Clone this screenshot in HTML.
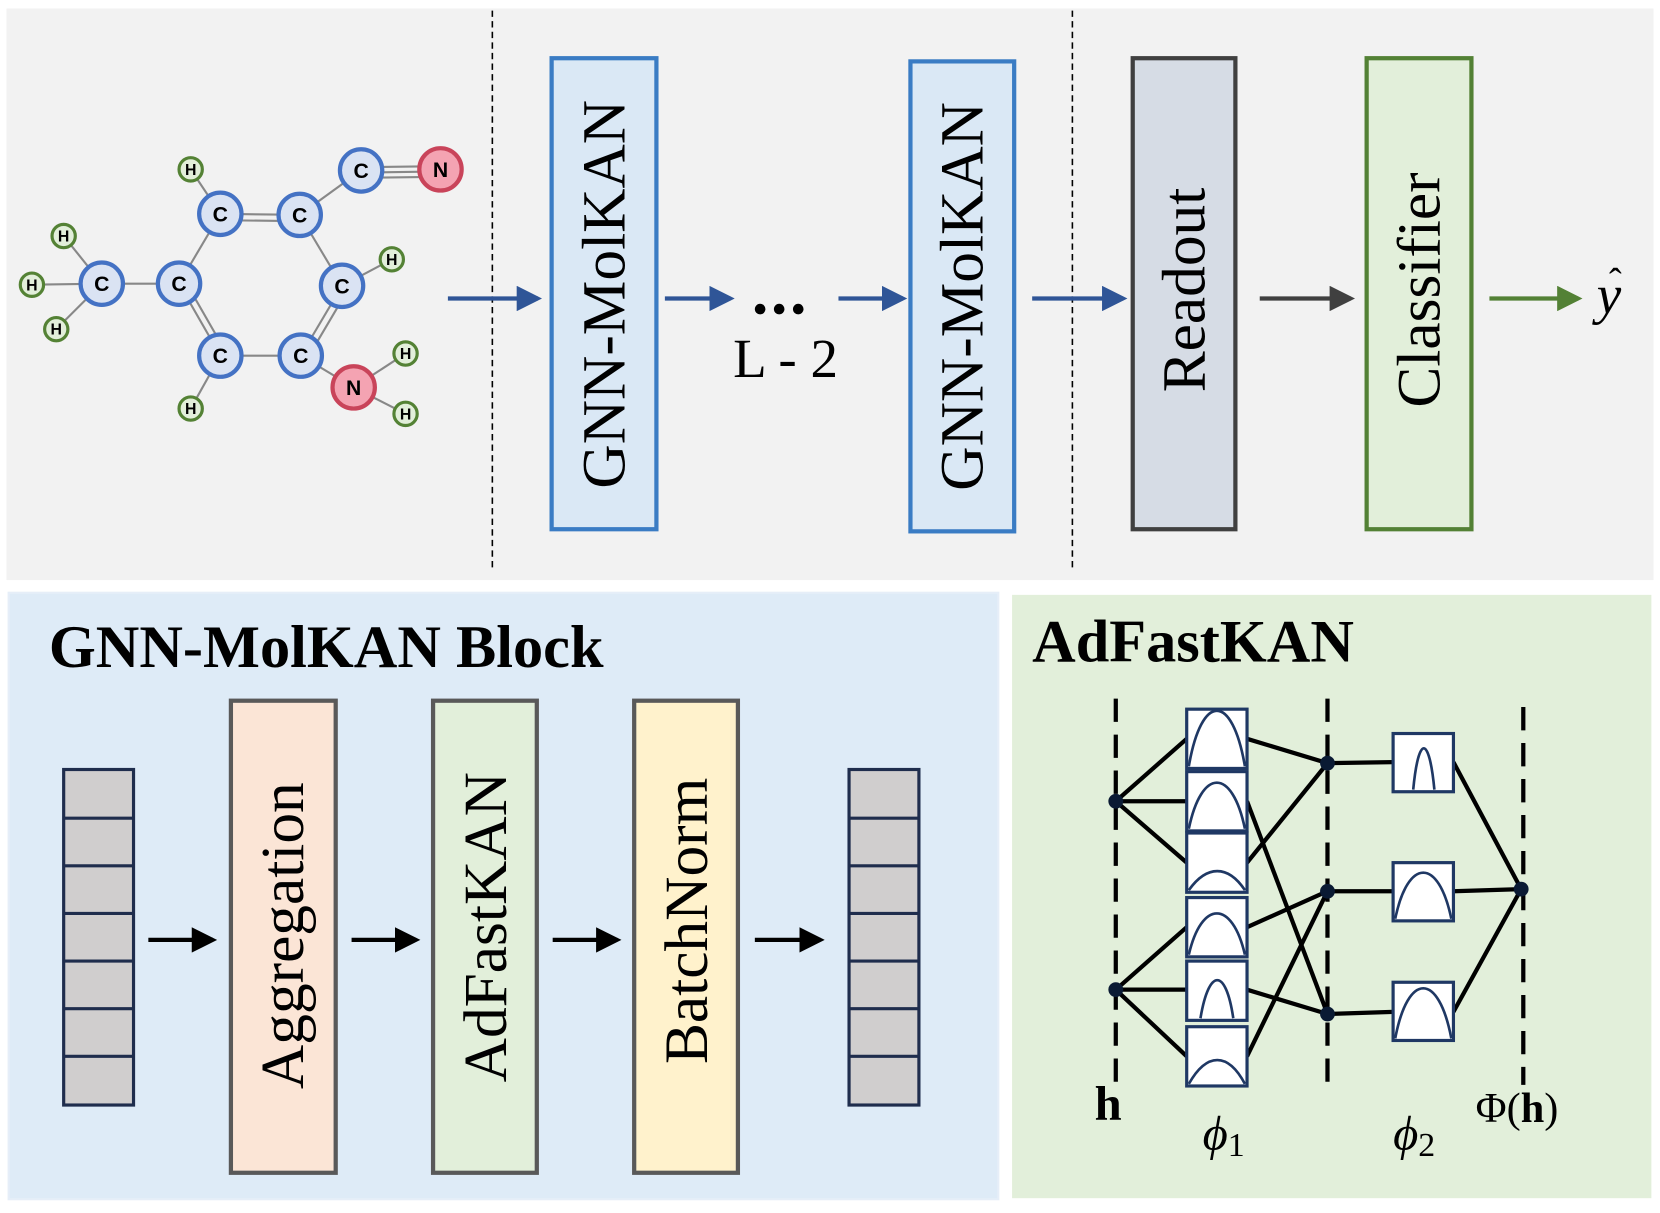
<!DOCTYPE html>
<html><head><meta charset="utf-8"><style>
html,body{margin:0;padding:0;background:#fff}
svg{display:block}
.t{font-family:"Liberation Serif",serif}
.a{font-family:"Liberation Sans",sans-serif;font-weight:bold;text-anchor:middle;dominant-baseline:central}
</style></head><body>
<svg width="1660" height="1213" viewBox="0 0 1568 1146" xmlns="http://www.w3.org/2000/svg">
<defs>
<marker id="mb" markerWidth="6" markerHeight="6" refX="5" refY="3" orient="auto" markerUnits="strokeWidth"><path d="M0,0 L6,3 L0,6 z" fill="#2f5597"/></marker>
<marker id="mk" markerWidth="6" markerHeight="6" refX="5" refY="3" orient="auto" markerUnits="strokeWidth"><path d="M0,0 L6,3 L0,6 z" fill="#000"/></marker>
<marker id="mg" markerWidth="6" markerHeight="6" refX="5" refY="3" orient="auto" markerUnits="strokeWidth"><path d="M0,0 L6,3 L0,6 z" fill="#404040"/></marker>
<marker id="mgr" markerWidth="6" markerHeight="6" refX="5" refY="3" orient="auto" markerUnits="strokeWidth"><path d="M0,0 L6,3 L0,6 z" fill="#538135"/></marker>
</defs>
<rect x="0" y="0" width="1568" height="1146" fill="#fff"/>
<rect x="6" y="8" width="1556" height="540" fill="#f2f2f2"/>
<line x1="465" y1="10" x2="465" y2="540" stroke="#000" stroke-width="1.5" stroke-dasharray="6,4"/>
<line x1="1013" y1="10" x2="1013" y2="540" stroke="#000" stroke-width="1.5" stroke-dasharray="6,4"/>
<g stroke="#888" stroke-width="2">
<line x1="208" y1="202" x2="283" y2="203"/><line x1="208" y1="208" x2="283" y2="209"/>
<line x1="283" y1="203" x2="323" y2="270"/>
<line x1="283" y1="203" x2="341" y2="161"/>
<line x1="341" y1="158" x2="416" y2="157"/><line x1="341" y1="163" x2="416" y2="162"/><line x1="341" y1="168" x2="416" y2="167"/>
<line x1="208" y1="202" x2="169" y2="268"/>
<line x1="169" y1="268" x2="96" y2="268"/>
<line x1="169" y1="268" x2="208" y2="336"/><line x1="175" y1="266" x2="214" y2="334"/>
<line x1="208" y1="336" x2="284" y2="336"/>
<line x1="284" y1="336" x2="323" y2="270"/><line x1="290" y1="339" x2="329" y2="273"/>
<line x1="284" y1="336" x2="334" y2="366"/>
<line x1="208" y1="202" x2="180" y2="160"/>
<line x1="96" y1="268" x2="60" y2="223"/><line x1="96" y1="268" x2="30" y2="269"/><line x1="96" y1="268" x2="53" y2="311"/>
<line x1="323" y1="270" x2="370" y2="245"/>
<line x1="334" y1="366" x2="383" y2="334"/><line x1="334" y1="366" x2="383" y2="391"/>
<line x1="208" y1="336" x2="180" y2="386"/>
</g>
<g stroke="#4472c4" stroke-width="4" fill="#dae3f3">
<circle cx="208" cy="202" r="20"/><circle cx="283" cy="203" r="20"/><circle cx="96" cy="268" r="20"/><circle cx="169" cy="268" r="20"/><circle cx="323" cy="270" r="20"/><circle cx="208" cy="336" r="20"/><circle cx="284" cy="336" r="20"/><circle cx="341" cy="161" r="20"/>
</g>
<g stroke="#c9445a" stroke-width="4" fill="#f4a3b2"><circle cx="416" cy="160" r="20"/><circle cx="334" cy="366" r="20"/></g>
<g stroke="#548235" stroke-width="3" fill="#e2efda">
<circle cx="180" cy="160" r="11"/><circle cx="60" cy="223" r="11"/><circle cx="30" cy="269" r="11"/><circle cx="53" cy="311" r="11"/><circle cx="370" cy="245" r="11"/><circle cx="383" cy="334" r="11"/><circle cx="180" cy="386" r="11"/><circle cx="383" cy="391" r="11"/>
</g>
<g class="a" font-size="20">
<text x="208" y="203">C</text><text x="283" y="204">C</text><text x="96" y="269">C</text><text x="169" y="269">C</text><text x="323" y="271">C</text><text x="208" y="337">C</text><text x="284" y="337">C</text><text x="341" y="162">C</text>
<text x="416" y="161">N</text><text x="334" y="367">N</text>
</g>
<g class="a" font-size="15">
<text x="180" y="161">H</text><text x="60" y="224">H</text><text x="30" y="270">H</text><text x="53" y="312">H</text><text x="370" y="246">H</text><text x="383" y="335">H</text><text x="180" y="387">H</text><text x="383" y="392">H</text>
</g>
<g stroke="#2f5597" stroke-width="4" marker-end="url(#mb)">
<line x1="423" y1="282" x2="508" y2="282"/><line x1="628" y1="282" x2="690" y2="282"/><line x1="792" y1="282" x2="853" y2="282"/><line x1="975" y1="282" x2="1061" y2="282"/>
</g>
<line x1="1190" y1="282" x2="1276" y2="282" stroke="#404040" stroke-width="4" marker-end="url(#mg)"/>
<line x1="1407" y1="282" x2="1491" y2="282" stroke="#538135" stroke-width="4" marker-end="url(#mgr)"/>
<rect x="521" y="55" width="99" height="445" fill="#dae8f5" stroke="#3a7cc4" stroke-width="4"/>
<rect x="860" y="58" width="98" height="444" fill="#dae8f5" stroke="#3a7cc4" stroke-width="4"/>
<rect x="1070" y="55" width="97" height="445" fill="#d6dce5" stroke="#404040" stroke-width="4"/>
<rect x="1291" y="55" width="99" height="445" fill="#e2efda" stroke="#538135" stroke-width="4"/>
<g class="t" font-size="58" text-anchor="middle">
<text transform="translate(590,278) rotate(-90)">GNN-MolKAN</text>
<text transform="translate(928,280) rotate(-90)">GNN-MolKAN</text>
<text transform="translate(1138,274) rotate(-90)">Readout</text>
<text transform="translate(1360,274) rotate(-90)">Classifier</text>
<text x="742" y="356" font-size="52">L - 2</text>
<text x="1520" y="296" font-size="52" font-style="italic">y</text>
<text x="1526" y="278" font-size="36">ˆ</text>
</g>
<g fill="#000"><circle cx="718" cy="292" r="5"/><circle cx="736" cy="292" r="5"/><circle cx="754" cy="292" r="5"/></g>
<rect x="8" y="560" width="935" height="573" fill="#deebf7" stroke="#e6eef8" stroke-width="2"/>
<text class="t" x="46" y="630" font-size="57" font-weight="bold">GNN-MolKAN Block</text>
<g fill="#d0cece" stroke="#1f2d4d" stroke-width="3">
<rect x="60" y="727" width="66" height="317"/><rect x="802" y="727" width="66" height="317"/>
</g>
<g stroke="#1f2d4d" stroke-width="3">
<line x1="60" y1="773" x2="126" y2="773"/><line x1="60" y1="818" x2="126" y2="818"/><line x1="60" y1="863" x2="126" y2="863"/><line x1="60" y1="908" x2="126" y2="908"/><line x1="60" y1="953" x2="126" y2="953"/><line x1="60" y1="998" x2="126" y2="998"/>
<line x1="802" y1="773" x2="868" y2="773"/><line x1="802" y1="818" x2="868" y2="818"/><line x1="802" y1="863" x2="868" y2="863"/><line x1="802" y1="908" x2="868" y2="908"/><line x1="802" y1="953" x2="868" y2="953"/><line x1="802" y1="998" x2="868" y2="998"/>
</g>
<g stroke="#000" stroke-width="4" marker-end="url(#mk)">
<line x1="140" y1="888" x2="201" y2="888"/><line x1="332" y1="888" x2="393" y2="888"/><line x1="522" y1="888" x2="583" y2="888"/><line x1="713" y1="888" x2="775" y2="888"/>
</g>
<rect x="218" y="662" width="99" height="446" fill="#fbe5d6" stroke="#595959" stroke-width="4"/>
<rect x="409" y="662" width="98" height="446" fill="#e2efda" stroke="#595959" stroke-width="4"/>
<rect x="599" y="662" width="98" height="446" fill="#fff2cc" stroke="#595959" stroke-width="4"/>
<g class="t" font-size="58" text-anchor="middle">
<text transform="translate(286,884) rotate(-90)">Aggregation</text>
<text transform="translate(478,876) rotate(-90)">AdFastKAN</text>
<text transform="translate(668,870) rotate(-90)">BatchNorm</text>
</g>
<rect x="956" y="562" width="604" height="570" fill="#e2efda"/>
<text class="t" x="975" y="625" font-size="57" font-weight="bold">AdFastKAN</text>
<g stroke="#000" stroke-width="4" stroke-dasharray="22,12">
<line x1="1054" y1="660" x2="1054" y2="1030"/><line x1="1254" y1="660" x2="1254" y2="1030"/><line x1="1439" y1="668" x2="1439" y2="1025"/>
</g>
<g stroke="#000" stroke-width="4">
<line x1="1054" y1="757" x2="1121" y2="698"/><line x1="1054" y1="757" x2="1121" y2="757"/><line x1="1054" y1="757" x2="1121" y2="815"/>
<line x1="1054" y1="935" x2="1121" y2="876"/><line x1="1054" y1="935" x2="1121" y2="935"/><line x1="1054" y1="935" x2="1121" y2="998"/>
<line x1="1178" y1="698" x2="1254" y2="721"/><line x1="1178" y1="757" x2="1254" y2="958"/><line x1="1178" y1="815" x2="1254" y2="721"/>
<line x1="1178" y1="876" x2="1254" y2="842"/><line x1="1178" y1="935" x2="1254" y2="958"/><line x1="1178" y1="998" x2="1254" y2="842"/>
<line x1="1254" y1="721" x2="1316" y2="720"/><line x1="1254" y1="842" x2="1316" y2="842"/><line x1="1254" y1="958" x2="1316" y2="956"/>
<line x1="1373" y1="720" x2="1437" y2="840"/><line x1="1373" y1="842" x2="1437" y2="840"/><line x1="1373" y1="956" x2="1437" y2="840"/>
</g>
<g fill="#fff" stroke="#1f3864" stroke-width="3">
<rect x="1121" y="670" width="57" height="56"/><rect x="1121" y="729" width="57" height="56"/><rect x="1121" y="787" width="57" height="56"/><rect x="1121" y="848" width="57" height="56"/><rect x="1121" y="908" width="57" height="56"/><rect x="1121" y="970" width="57" height="56"/>
<rect x="1316" y="693" width="57" height="55"/><rect x="1316" y="815" width="57" height="55"/><rect x="1316" y="928" width="57" height="55"/>
</g>
<g fill="none" stroke="#1f3864" stroke-width="2.5">
<path d="M1123,724 C1135,654 1164,654 1176,724"/>
<path d="M1123,783 C1135,725 1164,725 1176,783"/>
<path d="M1123,841 C1140,817 1160,817 1176,841"/>
<path d="M1123,902 C1135,850 1164,850 1176,902"/>
<path d="M1134,962 C1142,914 1158,914 1165,962"/>
<path d="M1123,1024 C1140,994 1160,994 1176,1024"/>
<path d="M1335,746 C1340,694 1350,694 1355,746"/>
<path d="M1318,868 C1330,810 1359,810 1371,868"/>
<path d="M1318,981 C1330,918 1359,918 1371,981"/>
</g>
<g fill="#0a1a33">
<circle cx="1054" cy="757" r="7"/><circle cx="1054" cy="935" r="7"/><circle cx="1254" cy="721" r="7"/><circle cx="1254" cy="842" r="7"/><circle cx="1254" cy="958" r="7"/><circle cx="1437" cy="840" r="7"/>
</g>
<g class="t" font-size="46">
<text x="1034" y="1058" font-weight="bold">h</text>
<text x="1136" y="1086" font-style="italic">ϕ<tspan font-size="32" font-style="normal" dy="6">1</tspan></text>
<text x="1316" y="1086" font-style="italic">ϕ<tspan font-size="32" font-style="normal" dy="6">2</tspan></text>
<text x="1394" y="1060" font-size="40">Φ(<tspan font-weight="bold">h</tspan>)</text>
</g>
</svg>
</body></html>
